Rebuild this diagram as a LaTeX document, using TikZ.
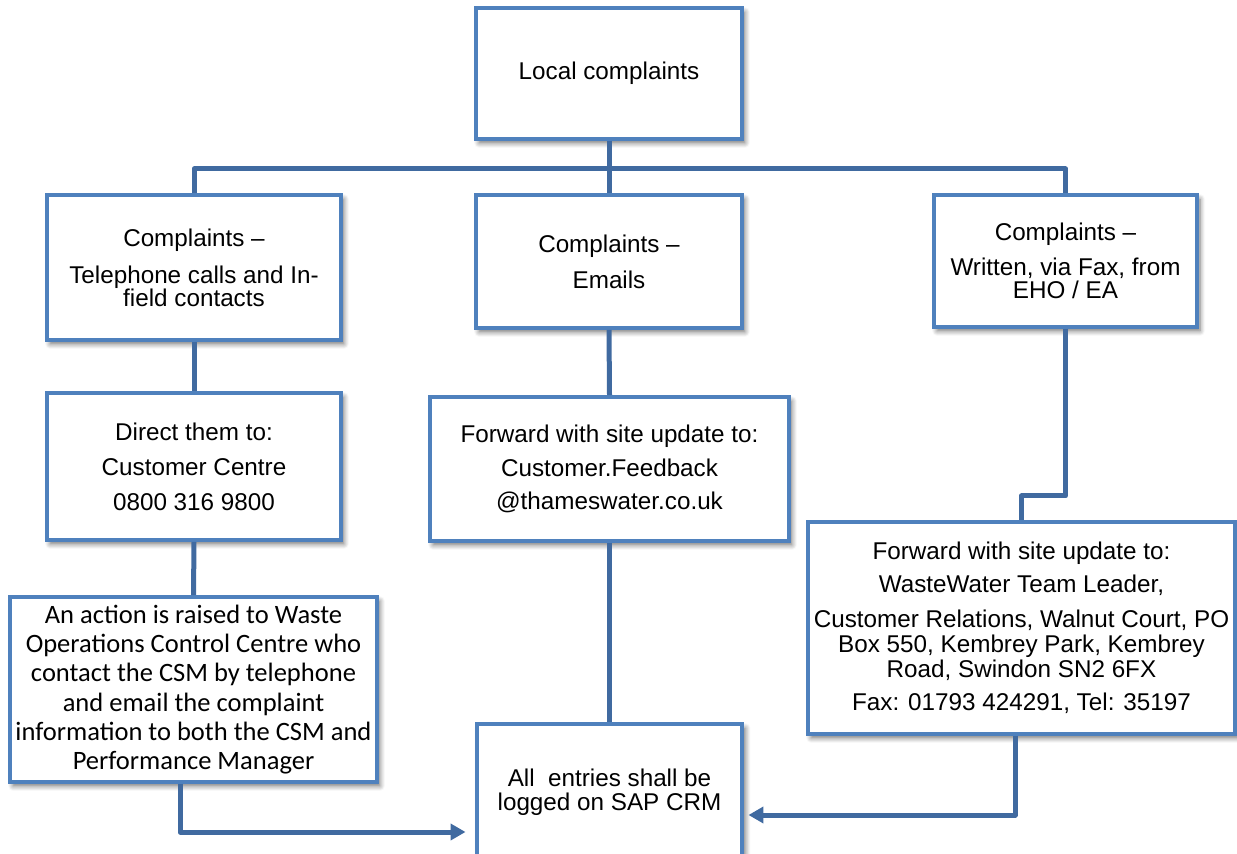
\documentclass[tikz,border=0pt]{standalone}
\usepackage{fontspec}
\setmainfont{Liberation Sans}
\newfontfamily\calibri{Carlito}
\usetikzlibrary{arrows.meta,shadows.blur}
\definecolor{boxblue}{RGB}{79,129,189}
\definecolor{lineblue}{RGB}{64,106,160}
\begin{document}
\begin{tikzpicture}[x=0.02cm, y=-0.02cm,
  font=\fontsize{13.8}{13}\selectfont,
  bx/.style={draw=boxblue, line width=0.08cm, fill=white, align=center, inner sep=0pt,
    blur shadow={shadow xshift=0.06cm, shadow yshift=-0.08cm, shadow blur radius=0.1cm,
      shadow blur steps=6, shadow opacity=55}},
  conn/.style={draw=lineblue, line width=0.1cm, line join=round},
  arr/.style={conn, -{Triangle[length=0.3cm, width=0.32cm]}}]
  \useasboundingbox (0,0) rectangle (1237,854);
  % boxes: centre in pixels of the page, y going down
  \node[bx, minimum width=5.32cm, minimum height=2.62cm] (top) at (609,73.5) {Local complaints};
  \node[bx, minimum width=5.88cm, minimum height=2.90cm] (tel) at (194,267.5)
    {Complaints –\\[8pt]Telephone calls and In-\\field contacts};
  \node[bx, minimum width=5.32cm, minimum height=2.66cm] (email) at (609,261.5)
    {Complaints –\\[7.5pt]Emails};
  \node[bx, minimum width=5.26cm, minimum height=2.64cm] (fax) at (1065.5,261)
    {Complaints –\\[7pt]Written, via Fax, from\\EHO / EA};
  \node[bx, minimum width=5.88cm, minimum height=2.94cm] (direct) at (194,466.5)
    {Direct them to:\\[7pt]Customer Centre\\[7pt]0800 316 9800};
  \node[bx, minimum width=7.18cm, minimum height=2.88cm] (fwd) at (609.5,469)
    {Forward with site update to:\\[6pt]Customer.Feedback\\[6pt]@thameswater.co.uk};
  \node[bx, minimum width=7.34cm, minimum height=3.70cm,
    font=\calibri\fontsize{15.1}{16.7}\selectfont] (action) at (193.5,689.5)
    {An action is raised to Waste\\Operations Control Centre who\\contact the CSM by telephone\\and email the complaint\\information to both the CSM and\\Performance Manager};
  \node[bx, minimum width=8.54cm, minimum height=4.24cm,
    font=\fontsize{13.8}{14.2}\selectfont] (ww) at (1021.5,628)
    {Forward with site update to:\\[4.5pt]WasteWater Team Leader,\\[5.5pt]Customer Relations, Walnut Court, PO\\Box 550, Kembrey Park, Kembrey\\Road, Swindon SN2 6FX\\[5pt]Fax: 01793 424291, Tel: 35197};
  \node[bx, minimum width=5.32cm, minimum height=2.72cm,
    font=\fontsize{13.8}{13.6}\selectfont] (sap) at (609.5,792)
    {All\ \ entries shall be\\logged on SAP CRM};
  % connectors
  \coordinate (bus) at ([yshift=-0.56cm]top.south);
  \draw[conn] (top.south) -- (email.north);
  \draw[conn] (tel.north) |- (bus) -| (fax.north);
  \draw[conn] (tel.south) -- (direct.north);
  \draw[conn] (direct.south) -- (action.north);
  \draw[conn] (email.south) -- (fwd.north);
  \draw[conn] (fwd.south) -- (sap.north);
  \draw[conn] (fax.south) -- ++(0,167) -| (ww.north);
  \draw[arr] (action.south -| 180,0) |- ([xshift=-0.18cm]sap.west |- 0,832);
  \draw[arr] (ww.south -| 1015,0) |- ([xshift=0.08cm]sap.east |- 0,815);
\end{tikzpicture}
\end{document}
